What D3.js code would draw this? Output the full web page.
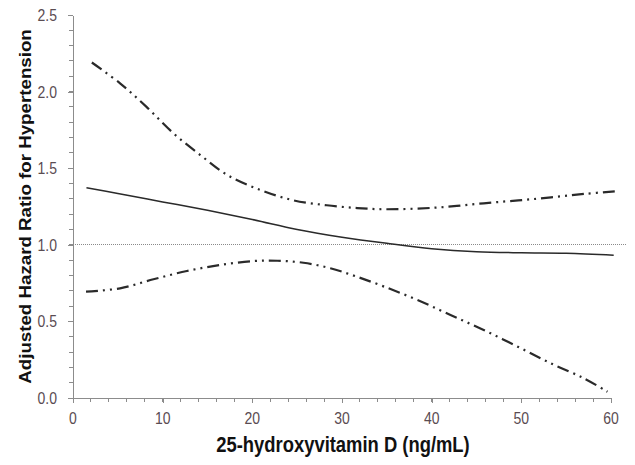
<!DOCTYPE html>
<html><head><meta charset="utf-8">
<script src="https://cdn.jsdelivr.net/npm/d3@7"></script>
<style>body{margin:0;background:#fff}svg{display:block}</style>
</head><body><svg id="c" width="635" height="465"></svg>
<script>
// Data
const estX = [1.5, 5, 10, 15, 20, 25, 30, 35, 40, 45, 50, 55, 60.3];
const estY = [1.372, 1.335, 1.28, 1.225, 1.165, 1.10, 1.05, 1.01, 0.975, 0.955, 0.948, 0.945, 0.932];
const upperX = [2.1, 5.25, 8.2, 11.2, 14.2, 17.2, 20.9, 24.6, 28.3, 31.7, 34.7, 40.3, 45.8, 51.4, 57.0, 60.8];
const upperY = [2.19, 2.054, 1.90, 1.728, 1.586, 1.456, 1.358, 1.29, 1.258, 1.24, 1.232, 1.242, 1.271, 1.299, 1.332, 1.351];
const lowerX = [1.45, 5.25, 8.97, 12.7, 16.4, 20.1, 22.8, 25.7, 28.7, 31.5, 34.7, 38.4, 42.1, 45.8, 49.6, 53.3, 57.0, 59.6];
const lowerY = [0.694, 0.716, 0.775, 0.829, 0.868, 0.894, 0.896, 0.883, 0.847, 0.795, 0.727, 0.640, 0.542, 0.444, 0.335, 0.226, 0.128, 0.041];
const refY = 1.0;
const refXRange = [0, 61.8];
const xTicks = [0, 10, 20, 30, 40, 50, 60];
const yTicks = [0.0, 0.5, 1.0, 1.5, 2.0, 2.5];
const xTitle = "25-hydroxyvitamin D (ng/mL)";
const yTitle = "Adjusted Hazard Ratio for Hypertension";

const svg = d3.select("#c");
const x = d3.scaleLinear().domain([0, 60]).range([73, 611]);
const y = d3.scaleLinear().domain([0, 2.5]).range([398, 15]);
const axisCol = "#8c8c8c", labCol = "#5a4c52";
const font = "'Liberation Sans', Arial, sans-serif";
const SY = 1.17; // vertical stretch of the reference's text

// minor ticks
svg.append("g").selectAll("line").data(d3.range(0, 60.01, 2)).join("line")
  .attr("x1", d => x(d)).attr("x2", d => x(d)).attr("y1", y(0)).attr("y2", y(0) + 4)
  .attr("stroke", axisCol).attr("stroke-width", 1).attr("shape-rendering", "crispEdges");
svg.append("g").selectAll("line").data(d3.range(0, 2.501, 0.1)).join("line")
  .attr("x1", x(0) - 4).attr("x2", x(0)).attr("y1", d => y(d)).attr("y2", d => y(d))
  .attr("stroke", axisCol).attr("stroke-width", 1).attr("shape-rendering", "crispEdges");

// axes (lines only; labels drawn below)
const xAxis = svg.append("g").attr("transform", `translate(0,${y(0)})`)
  .call(d3.axisBottom(x).tickValues(xTicks).tickSize(5).tickSizeOuter(0).tickFormat(""));
const yAxis = svg.append("g").attr("transform", `translate(${x(0)},0)`)
  .call(d3.axisLeft(y).tickValues(yTicks).tickSize(5).tickSizeOuter(0).tickFormat(""));
[xAxis, yAxis].forEach(a => {
  a.select(".domain").attr("stroke", axisCol).attr("shape-rendering", "crispEdges");
  a.selectAll(".tick line").attr("stroke", axisCol).attr("shape-rendering", "crispEdges");
});

// tick labels
svg.append("g").selectAll("text").data(xTicks).join("text")
  .attr("transform", d => `translate(${x(d)},424) scale(1,${SY})`)
  .attr("text-anchor", "middle").attr("fill", labCol)
  .style("font-family", font).style("font-size", "14px").text(d3.format("d"));
svg.append("g").selectAll("text").data(yTicks).join("text")
  .attr("transform", d => `translate(57,${y(d) + 5.9}) scale(1,${SY})`)
  .attr("text-anchor", "end").attr("fill", labCol)
  .style("font-family", font).style("font-size", "14px").text(d3.format(".1f"));

// reference line
svg.append("line").attr("x1", x(refXRange[0])).attr("x2", x(refXRange[1]))
  .attr("y1", y(refY)).attr("y2", y(refY))
  .attr("stroke", "#8a8a8a").attr("stroke-width", 1).attr("stroke-dasharray", "1,1")
  .attr("shape-rendering", "crispEdges");

const line = d3.line().x(d => x(d[0])).y(d => y(d[1])).curve(d3.curveCatmullRom);
const pairs = (a, b) => a.map((v, i) => [v, b[i]]);

svg.append("path").attr("d", line(pairs(upperX, upperY))).attr("fill", "none")
  .attr("stroke", "#2a2a2a").attr("stroke-width", 2.2).attr("stroke-dasharray", "12,5,2,5,2,5");
svg.append("path").attr("d", line(pairs(lowerX, lowerY))).attr("fill", "none")
  .attr("stroke", "#2a2a2a").attr("stroke-width", 2.2).attr("stroke-dasharray", "12,5,2,5,2,5");
svg.append("path").attr("d", line(pairs(estX, estY))).attr("fill", "none")
  .attr("stroke", "#2a2a2a").attr("stroke-width", 1.5);

// titles
svg.append("text").attr("transform", `translate(343,452) scale(1,${SY})`).attr("text-anchor", "middle")
  .style("font-family", font).style("font-size", "18.4px").style("font-weight", "bold")
  .attr("fill", "#111").text(xTitle);
svg.append("text").attr("transform", `translate(31,206.5) scale(1,${SY}) rotate(-90)`).attr("text-anchor", "middle")
  .style("font-family", font).style("font-size", "16px").style("font-weight", "bold")
  .attr("fill", "#111").text(yTitle);
</script></body></html>
